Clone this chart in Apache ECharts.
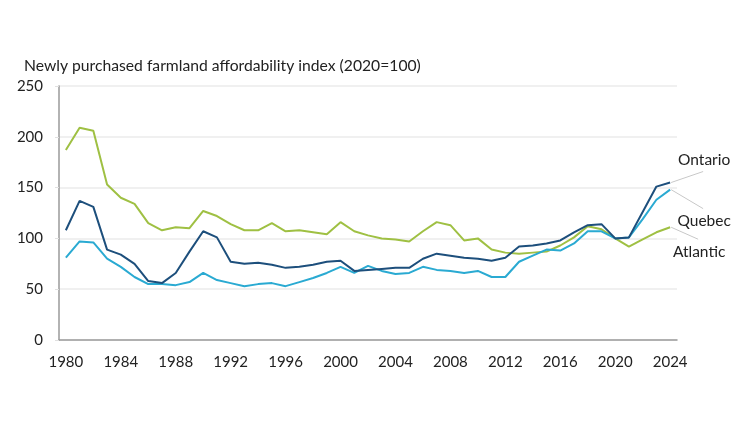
<!DOCTYPE html>
<html>
<head>
<meta charset="utf-8">
<script src="https://cdn.jsdelivr.net/npm/echarts@6/dist/echarts.min.js"></script>
<style>html,body{margin:0;padding:0;background:#fff}#c{width:750px;height:423px}</style>
</head>
<body>
<div id="c"></div>
<script>
var years = [];
for (var y = 1980; y <= 2024; y++) years.push(String(y));

var ontario = [108,137,131,89,84,75,58,56,66,87,107,101,77,75,76,74,71,72,74,77,78,68,69,70,71,71,80,85,83,81,80,78,81,92,93,95,98,106,113,114,100,101,126,151,155];
var quebec = [81,97,96,80,72,62,55,55,54,57,66,59,56,53,55,56,53,57,61,66,72,66,73,68,65,66,72,69,68,66,68,62,62,77,83,89,88,95,107,107,100,101,119,138,148];
var atlantic = [187,209,206,153,140,134,115,108,111,110,127,122,114,108,108,115,107,108,106,104,116,107,103,100,99,97,107,116,113,98,100,89,86,85,86,87,93,101,112,109,100,92,99,106,111];

var seriesNames = ['Ontario', 'Quebec', 'Atlantic'];
var titleText = 'Newly purchased farmland affordability index (2020=100)';

var FONT = 'Lato, "Liberation Sans", sans-serif';
var colors = { Ontario: '#1d4f7c', Quebec: '#2aaad2', Atlantic: '#9fc043' };

var chart = echarts.init(document.getElementById('c'), null, { renderer: 'canvas' });

function mk(name, data) {
  return {
    name: name, type: 'line', data: data, symbol: 'none',
    lineStyle: { width: 2, color: colors[name] },
    itemStyle: { color: colors[name] },
    animation: false, z: 3
  };
}

chart.setOption({
  animation: false,
  title: {
    text: titleText, left: 19, top: 53,
    textStyle: { fontFamily: FONT, fontSize: 15.7, fontWeight: 'normal', color: '#222' }
  },
  grid: { left: 59, right: 73, top: 86, bottom: 83, containLabel: false },
  xAxis: {
    type: 'category', data: years, boundaryGap: true,
    axisLine: { lineStyle: { color: '#9a9a9a', width: 1.5 } },
    axisTick: { show: false },
    axisLabel: { interval: 3, margin: 15, fontFamily: FONT, fontSize: 15, color: '#222' }
  },
  yAxis: {
    type: 'value', min: 0, max: 250, interval: 50,
    axisLine: { show: true, lineStyle: { color: '#9a9a9a', width: 1.5 } },
    axisTick: { show: true, length: 4, lineStyle: { color: '#e0e0e0' } },
    splitLine: { lineStyle: { color: '#ebebeb', width: 1.5 } },
    axisLabel: { margin: 16, fontFamily: FONT, fontSize: 15, color: '#222' }
  },
  series: [mk('Atlantic', atlantic), mk('Quebec', quebec), mk('Ontario', ontario)]
});

// end labels with leader lines, anchored at each series' last point
var dataMap = { Ontario: ontario, Quebec: quebec, Atlantic: atlantic };
var offs = {
  Ontario: { lx: 33, ly: -11, tx: 34, ty: -23 },
  Quebec: { lx: 33, ly: 19, tx: 34, ty: 31 },
  Atlantic: { lx: 28, ly: 12, tx: 29, ty: 25 }
};
var g = [];
seriesNames.forEach(function (n) {
  var d = dataMap[n];
  var p = chart.convertToPixel({ xAxisIndex: 0, yAxisIndex: 0 }, [years[years.length - 1], d[d.length - 1]]);
  var o = offs[n];
  g.push({ type: 'line', z: 10, shape: { x1: p[0] + 1, y1: p[1], x2: p[0] + o.lx, y2: p[1] + o.ly },
    style: { stroke: '#c8c8c8', lineWidth: 1 } });
  g.push({ type: 'text', z: 10, x: p[0] + o.tx, y: p[1] + o.ty,
    style: { text: n, fill: '#222', font: '15.5px ' + FONT, align: 'center', verticalAlign: 'middle' } });
});
chart.setOption({ graphic: g });
</script>
</body>
</html>
